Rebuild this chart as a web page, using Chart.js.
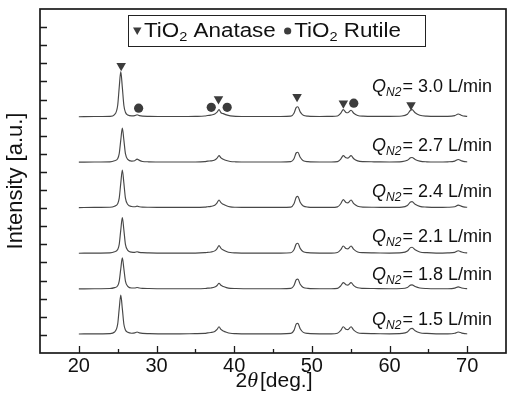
<!DOCTYPE html>
<html><head><meta charset="utf-8">
<script src="https://cdn.jsdelivr.net/npm/chart.js@4.4.0/dist/chart.umd.min.js"></script>
<style>html,body{margin:0;padding:0;background:#fff;}canvas{display:block;}</style>
</head><body>
<canvas id="c" width="507" height="401"></canvas>
<script>
// 2θ sampling grid (deg.)
const twoTheta = [20,22,24,24.6,25.0,25.2,25.4,25.6,25.8,26.0,
  26.3,26.8,27.2,27.5,27.8,28.2,29,31,33,35,
  36.2,36.6,37.0,37.5,37.8,38.05,38.3,38.6,39.0,39.5,
  40.2,42,44,46,47.3,47.7,48.0,48.2,48.5,48.9,
  49.5,51,52.5,53.3,53.7,54.05,54.4,54.65,55.05,55.4,
  55.9,56.6,58,60,61.6,62.3,62.7,62.9,63.3,63.9,
  64.8,66,67.5,68.4,68.85,69.3,69.7,70];

const flowRates = ['3.0','2.7','2.4','2.1','1.8','1.5'];
const offsets = [13.05, 10.54, 8.03, 5.51, 3.54, 1.05];

const int30 = [0.00,0.01,0.02,0.12,0.62,1.62,2.49,1.62,0.62,0.25,
  0.10,0.05,0.06,0.11,0.06,0.03,0.02,0.01,0.01,0.02,
  0.04,0.07,0.09,0.15,0.25,0.39,0.22,0.17,0.10,0.05,
  0.02,0.01,0.01,0.01,0.03,0.19,0.52,0.55,0.27,0.08,
  0.03,0.01,0.02,0.04,0.18,0.39,0.24,0.22,0.36,0.19,
  0.07,0.03,0.02,0.02,0.04,0.14,0.36,0.39,0.22,0.08,
  0.03,0.02,0.02,0.06,0.15,0.07,0.03,0.02];
const int27 = [0.00,0.01,0.02,0.08,0.19,0.47,1.22,1.88,1.22,0.47,
  0.15,0.06,0.08,0.17,0.10,0.04,0.02,0.01,0.01,0.01,
  0.03,0.06,0.07,0.12,0.22,0.36,0.24,0.16,0.09,0.04,
  0.02,0.01,0.01,0.01,0.03,0.19,0.52,0.55,0.27,0.08,
  0.03,0.01,0.01,0.03,0.16,0.36,0.24,0.22,0.36,0.19,
  0.07,0.03,0.02,0.01,0.03,0.10,0.24,0.26,0.15,0.06,
  0.02,0.01,0.02,0.06,0.15,0.07,0.03,0.02];
const int24 = [0.00,0.01,0.02,0.08,0.21,0.52,1.35,2.08,1.35,0.52,
  0.17,0.06,0.05,0.08,0.05,0.03,0.02,0.01,0.01,0.01,
  0.03,0.05,0.07,0.13,0.26,0.42,0.27,0.18,0.10,0.04,
  0.02,0.01,0.01,0.01,0.03,0.21,0.58,0.62,0.30,0.09,
  0.03,0.01,0.01,0.04,0.20,0.44,0.28,0.26,0.42,0.22,
  0.08,0.03,0.02,0.01,0.03,0.12,0.31,0.33,0.19,0.07,
  0.03,0.01,0.02,0.05,0.14,0.07,0.03,0.02];
const int21 = [0.00,0.01,0.02,0.08,0.20,0.49,1.28,1.97,1.28,0.49,
  0.16,0.06,0.05,0.08,0.05,0.03,0.02,0.01,0.01,0.01,
  0.03,0.05,0.07,0.13,0.26,0.42,0.27,0.18,0.10,0.04,
  0.02,0.01,0.01,0.01,0.03,0.19,0.52,0.55,0.27,0.08,
  0.03,0.01,0.01,0.04,0.18,0.40,0.26,0.24,0.40,0.21,
  0.07,0.03,0.02,0.01,0.03,0.12,0.31,0.33,0.19,0.07,
  0.03,0.01,0.02,0.05,0.14,0.07,0.03,0.02];
const int18 = [0.00,0.01,0.02,0.07,0.17,0.43,1.11,1.71,1.11,0.43,
  0.14,0.05,0.05,0.08,0.05,0.03,0.02,0.01,0.01,0.01,
  0.02,0.04,0.05,0.10,0.19,0.31,0.20,0.13,0.07,0.03,
  0.02,0.01,0.01,0.01,0.03,0.19,0.51,0.54,0.26,0.08,
  0.03,0.01,0.01,0.03,0.16,0.35,0.23,0.21,0.35,0.18,
  0.06,0.03,0.02,0.01,0.02,0.08,0.21,0.22,0.13,0.05,
  0.02,0.01,0.01,0.04,0.11,0.05,0.02,0.01];
const int15 = [0.00,0.01,0.02,0.11,0.54,1.40,2.15,1.40,0.54,0.22,
  0.09,0.04,0.06,0.11,0.06,0.03,0.02,0.01,0.01,0.02,
  0.03,0.06,0.08,0.14,0.25,0.40,0.25,0.17,0.10,0.04,
  0.02,0.01,0.01,0.01,0.03,0.20,0.56,0.59,0.29,0.09,
  0.03,0.01,0.01,0.04,0.18,0.40,0.26,0.24,0.40,0.21,
  0.07,0.03,0.02,0.01,0.03,0.11,0.29,0.31,0.18,0.07,
  0.03,0.01,0.01,0.04,0.11,0.05,0.02,0.01];
const intensities = [int30, int27, int24, int21, int18, int15];

// phase markers on the 3.0 L/min pattern
const anataseX = [25.45, 37.98, 48.1, 54.06, 62.77];
const anataseY = [15.87, 14.03, 14.16, 13.80, 13.70];
const rutileX = [27.7, 37.05, 39.1, 55.4];
const rutileY = [13.52, 13.57, 13.57, 13.80];

const xTickValues = [20, 30, 40, 50, 60, 70];
const xMinorTickValues = [25, 35, 45, 55, 65];
const yTickValues = [1,2,3,4,5,6,7,8,9,10,11,12,13,14,15,16,17,18];

const FONT = "'Liberation Sans', Arial, sans-serif";
const LINE = '#474747';
const MARK = '#3c3c3c';

const datasets = intensities.map((vals, k) => ({
  type: 'line',
  label: 'Q_N2 = ' + flowRates[k] + ' L/min',
  data: twoTheta.map((x, i) => ({ x: x, y: vals[i] + offsets[k] })),
  borderColor: LINE, borderWidth: 1.15, pointRadius: 0,
  cubicInterpolationMode: 'monotone', fill: false, order: 1
}));
datasets.push({
  type: 'scatter', label: 'TiO2 Anatase',
  data: anataseX.map((x, i) => ({ x: x, y: anataseY[i] })),
  pointStyle: 'triangle', rotation: 180, pointRadius: 5.5,
  backgroundColor: MARK, borderColor: MARK, borderWidth: 0, order: 0
});
datasets.push({
  type: 'scatter', label: 'TiO2 Rutile',
  data: rutileX.map((x, i) => ({ x: x, y: rutileY[i] })),
  pointStyle: 'circle', pointRadius: 4.6,
  backgroundColor: MARK, borderColor: MARK, borderWidth: 0, order: 0
});

// label offsets above each baseline (in y units)
const labelLift = [1.37, 0.62, 0.59, 0.62, 0.49, 0.50];

function stretchedText(ctx, txt, x, y, sx) {
  ctx.save();
  ctx.translate(x, y);
  ctx.scale(sx, 1);
  ctx.fillText(txt, 0, 0);
  ctx.restore();
  return ctx.measureText(txt).width * sx;
}

const decor = {
  id: 'decor',
  afterDraw(chart) {
    const ctx = chart.ctx, ca = chart.chartArea;
    const xs = chart.scales.x, ys = chart.scales.y;
    ctx.save();
    // ticks
    ctx.strokeStyle = '#1a1a1a';
    ctx.lineWidth = 1.3;
    ctx.beginPath();
    xTickValues.forEach(v => { const p = Math.round(xs.getPixelForValue(v)) + 0.5; ctx.moveTo(p, ca.bottom); ctx.lineTo(p, ca.bottom - 7); });
    xMinorTickValues.forEach(v => { const p = Math.round(xs.getPixelForValue(v)) + 0.5; ctx.moveTo(p, ca.bottom); ctx.lineTo(p, ca.bottom - 4); });
    yTickValues.forEach(v => { const p = Math.round(ys.getPixelForValue(v)) + 0.5; ctx.moveTo(ca.left, p); ctx.lineTo(ca.left + 7, p); });
    ctx.stroke();
    // frame
    ctx.lineWidth = 1.7;
    ctx.strokeRect(ca.left, ca.top, ca.right - ca.left, ca.bottom - ca.top);

    // legend box
    ctx.fillStyle = '#fff';
    ctx.fillRect(128.5, 15.5, 297, 31);
    ctx.lineWidth = 1;
    ctx.strokeStyle = '#222';
    ctx.strokeRect(128.5, 15.5, 297, 31);
    ctx.textBaseline = 'alphabetic';
    ctx.textAlign = 'left';
    const SX = 1.12;
    const tiO2Width = (rest) => {
      ctx.font = '20px ' + FONT; let w = ctx.measureText('TiO').width + ctx.measureText(rest).width;
      ctx.font = '13px ' + FONT; w += ctx.measureText('2').width;
      return w * SX;
    };
    const drawTiO2 = (x, rest) => {
      ctx.fillStyle = '#111';
      ctx.font = '20px ' + FONT;
      x += stretchedText(ctx, 'TiO', x, 37, SX);
      ctx.font = '13px ' + FONT;
      x += stretchedText(ctx, '2', x, 41, SX);
      ctx.font = '20px ' + FONT;
      stretchedText(ctx, rest, x, 37, SX);
    };
    ctx.fillStyle = MARK;
    ctx.beginPath(); ctx.moveTo(133, 27.5); ctx.lineTo(141.5, 27.5); ctx.lineTo(137.25, 35); ctx.closePath(); ctx.fill();
    drawTiO2(144, ' Anatase');
    const rStart = 401 - tiO2Width(' Rutile');
    ctx.fillStyle = MARK;
    ctx.beginPath(); ctx.arc(rStart - 6.5, 31, 3.6, 0, Math.PI * 2); ctx.fill();
    drawTiO2(rStart, ' Rutile');

    // Q_N2 labels
    ctx.fillStyle = '#111';
    flowRates.forEach((f, k) => {
      const yb = ys.getPixelForValue(offsets[k] + labelLift[k]);
      const rightX = 492;
      ctx.font = 'italic 18px ' + FONT;
      const wQ = ctx.measureText('Q').width;
      ctx.font = 'italic 12px ' + FONT;
      const wS = ctx.measureText('N2').width;
      ctx.font = '18px ' + FONT;
      const rest = '= ' + f + ' L/min';
      const wR = ctx.measureText(rest).width;
      let x = rightX - (wQ + wS + 1 + wR);
      ctx.font = 'italic 18px ' + FONT;
      ctx.fillText('Q', x, yb); x += wQ;
      ctx.font = 'italic 12px ' + FONT;
      ctx.fillText('N2', x, yb + 4); x += wS + 1;
      ctx.font = '18px ' + FONT;
      ctx.fillText(rest, x, yb);
    });

    // x axis title: 2θ [deg.]
    const TF = '21px ' + FONT, TH = 'italic 22px "Liberation Serif", "DejaVu Serif", serif';
    ctx.font = TF; const w2 = ctx.measureText('2').width;
    ctx.font = TH; const wT = ctx.measureText('\u03B8').width;
    ctx.font = TF; const wD = ctx.measureText('[deg.]').width;
    const total = w2 + wT + 2 + wD;
    let x0 = (ca.left + ca.right) / 2 - total / 2 + 1;
    const yb = 387;
    ctx.fillText('2', x0, yb); x0 += w2;
    ctx.font = TH;
    ctx.fillText('\u03B8', x0, yb); x0 += wT + 2;
    ctx.font = TF;
    ctx.fillText('[deg.]', x0, yb);
    ctx.restore();
  }
};

new Chart(document.getElementById('c'), {
  data: { datasets: datasets },
  options: {
    responsive: false, animation: false, devicePixelRatio: 1,
    layout: { autoPadding: false, padding: { top: 9, right: 1, left: 0, bottom: 0 } },
    plugins: { legend: { display: false }, tooltip: { enabled: false } },
    scales: {
      x: {
        type: 'linear', min: 15, max: 75,
        afterBuildTicks: s => { s.ticks = xTickValues.map(v => ({ value: v })); },
        afterFit: s => { s.height = 48; s.paddingLeft = 0; s.paddingRight = 0; },
        grid: { display: false, drawTicks: false },
        border: { display: false },
        ticks: { font: { family: FONT, size: 20 }, color: '#111', padding: 1, maxRotation: 0, autoSkip: false }
      },
      y: {
        type: 'linear', min: 0, max: 19,
        afterFit: s => { s.width = 40; s.paddingTop = 0; s.paddingBottom = 0; },
        grid: { display: false, drawTicks: false },
        border: { display: false },
        ticks: { display: false },
        title: { display: true, text: 'Intensity [a.u.]', font: { family: FONT, size: 22 }, color: '#111', padding: { top: 3, bottom: 0 } }
      }
    }
  },
  plugins: [decor]
});
</script>
</body></html>
